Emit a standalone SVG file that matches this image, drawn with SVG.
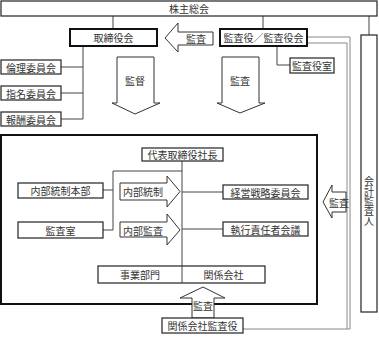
<svg xmlns="http://www.w3.org/2000/svg" width="379" height="338" viewBox="0 0 379 338">
<style>
text{font-family:"Noto Sans CJK JP","Noto Sans",sans-serif;font-size:10px;fill:#333;text-anchor:middle;dominant-baseline:central}
.vert{writing-mode:vertical-rl;text-orientation:upright}
.box{fill:#fff;stroke:#222;stroke-width:1.2}
.thick{fill:#fff;stroke:#111;stroke-width:2}
.arr{fill:#fff;stroke:#333;stroke-width:1}
.con{fill:none;stroke:#444;stroke-width:1}
.gray{fill:none;stroke:#888;stroke-width:1}
</style>
<rect width="379" height="338" fill="#fff"/>
<g id="connectors">
<path class="con" d="M113,16V29M263,16V29M369,16V35"/>
<path class="con" d="M83,46V119M61,67H83M61,93H83M61,119H83"/>
<path class="con" d="M277,46V65H290"/>
<path class="gray" d="M307,37H350V329H243M307,43H347V329"/>
</g>
<g id="main">
<rect class="thick" x="1" y="135" width="316" height="169"/>
</g>
<g id="inner-connectors">
<path class="con" d="M182,161V283M182,192H223M182,229H223M182,171H113V230M103,190H113M103,230H113"/>
</g>
<g id="shareholders"><rect class="box" x="1" y="1" width="376" height="15"/><text x="189" y="8.5">株主総会</text></g>
<g id="board"><rect class="thick" x="70" y="29" width="87" height="17"/><text x="113.5" y="37.5">取締役会</text></g>
<g id="auditors"><rect class="thick" x="220" y="29" width="87" height="17"/><text x="263.5" y="37.5">監査役／監査役会</text></g>
<g id="ethics"><rect class="box" x="1" y="60" width="60" height="14"/><text x="31" y="67">倫理委員会</text></g>
<g id="nomination"><rect class="box" x="1" y="86" width="60" height="14"/><text x="31" y="93">指名委員会</text></g>
<g id="compensation"><rect class="box" x="1" y="112" width="60" height="14"/><text x="31" y="119">報酬委員会</text></g>
<g id="auditor-office"><rect class="box" x="290" y="58" width="44" height="15"/><text x="312" y="65.5">監査役室</text></g>
<g id="accounting-auditor"><rect class="box" x="361" y="35" width="16" height="277"/>
<text class="vert" x="369" y="201">会計監査人</text></g>
<g id="arrow-audit-top"><path class="arr" d="M165,38L178,23V32H213V45H178V52Z"/><text x="196" y="38.5">監査</text></g>
<g id="arrow-supervise"><path class="arr" d="M117,57H154V103H160L135,114L112,103H117Z"/><text x="135" y="80">監督</text></g>
<g id="arrow-audit-down"><path class="arr" d="M222,57H259V103H265L240,113L217,103H222Z"/><text x="240" y="80">監査</text></g>
<g id="president"><rect class="box" x="142" y="148" width="81" height="13"/><text x="182.5" y="154.5">代表取締役社長</text></g>
<g id="ic-hq"><rect class="box" x="18" y="183" width="85" height="15"/><text x="60.5" y="190.5">内部統制本部</text></g>
<g id="audit-room"><rect class="box" x="18" y="222" width="85" height="16"/><text x="60.5" y="230">監査室</text></g>
<g id="arrow-ic"><path class="arr" d="M120,183H167V176L180,191.5L167,207V200H120Z"/><text x="143" y="191.5">内部統制</text></g>
<g id="arrow-ia"><path class="arr" d="M120,222H167V214L180,230L167,245V237H120Z"/><text x="143" y="230">内部監査</text></g>
<g id="strategy"><rect class="box" x="223" y="185" width="85" height="14"/><text x="265.5" y="192">経営戦略委員会</text></g>
<g id="exec"><rect class="box" x="223" y="222" width="85" height="14"/><text x="265.5" y="229">執行責任者会議</text></g>
<g id="business"><rect class="box" x="98" y="266" width="167" height="17"/><line x1="182" y1="266" x2="182" y2="283" stroke="#444"/><text x="140" y="274.5">事業部門</text><text x="223.5" y="274.5">関係会社</text></g>
<g id="arrow-audit-right"><path class="arr" d="M323,202L332,185V192H346V212H332V218Z"/><text x="339" y="202">監査</text></g>
<g id="arrow-audit-up"><path class="arr" d="M203,287L225,298H214V318H192V298H180Z"/><text x="203" y="305">監査</text></g>
<g id="affiliate-auditor"><rect class="box" x="162" y="318" width="81" height="15"/><text x="202.5" y="325.5">関係会社監査役</text></g>
</svg>
